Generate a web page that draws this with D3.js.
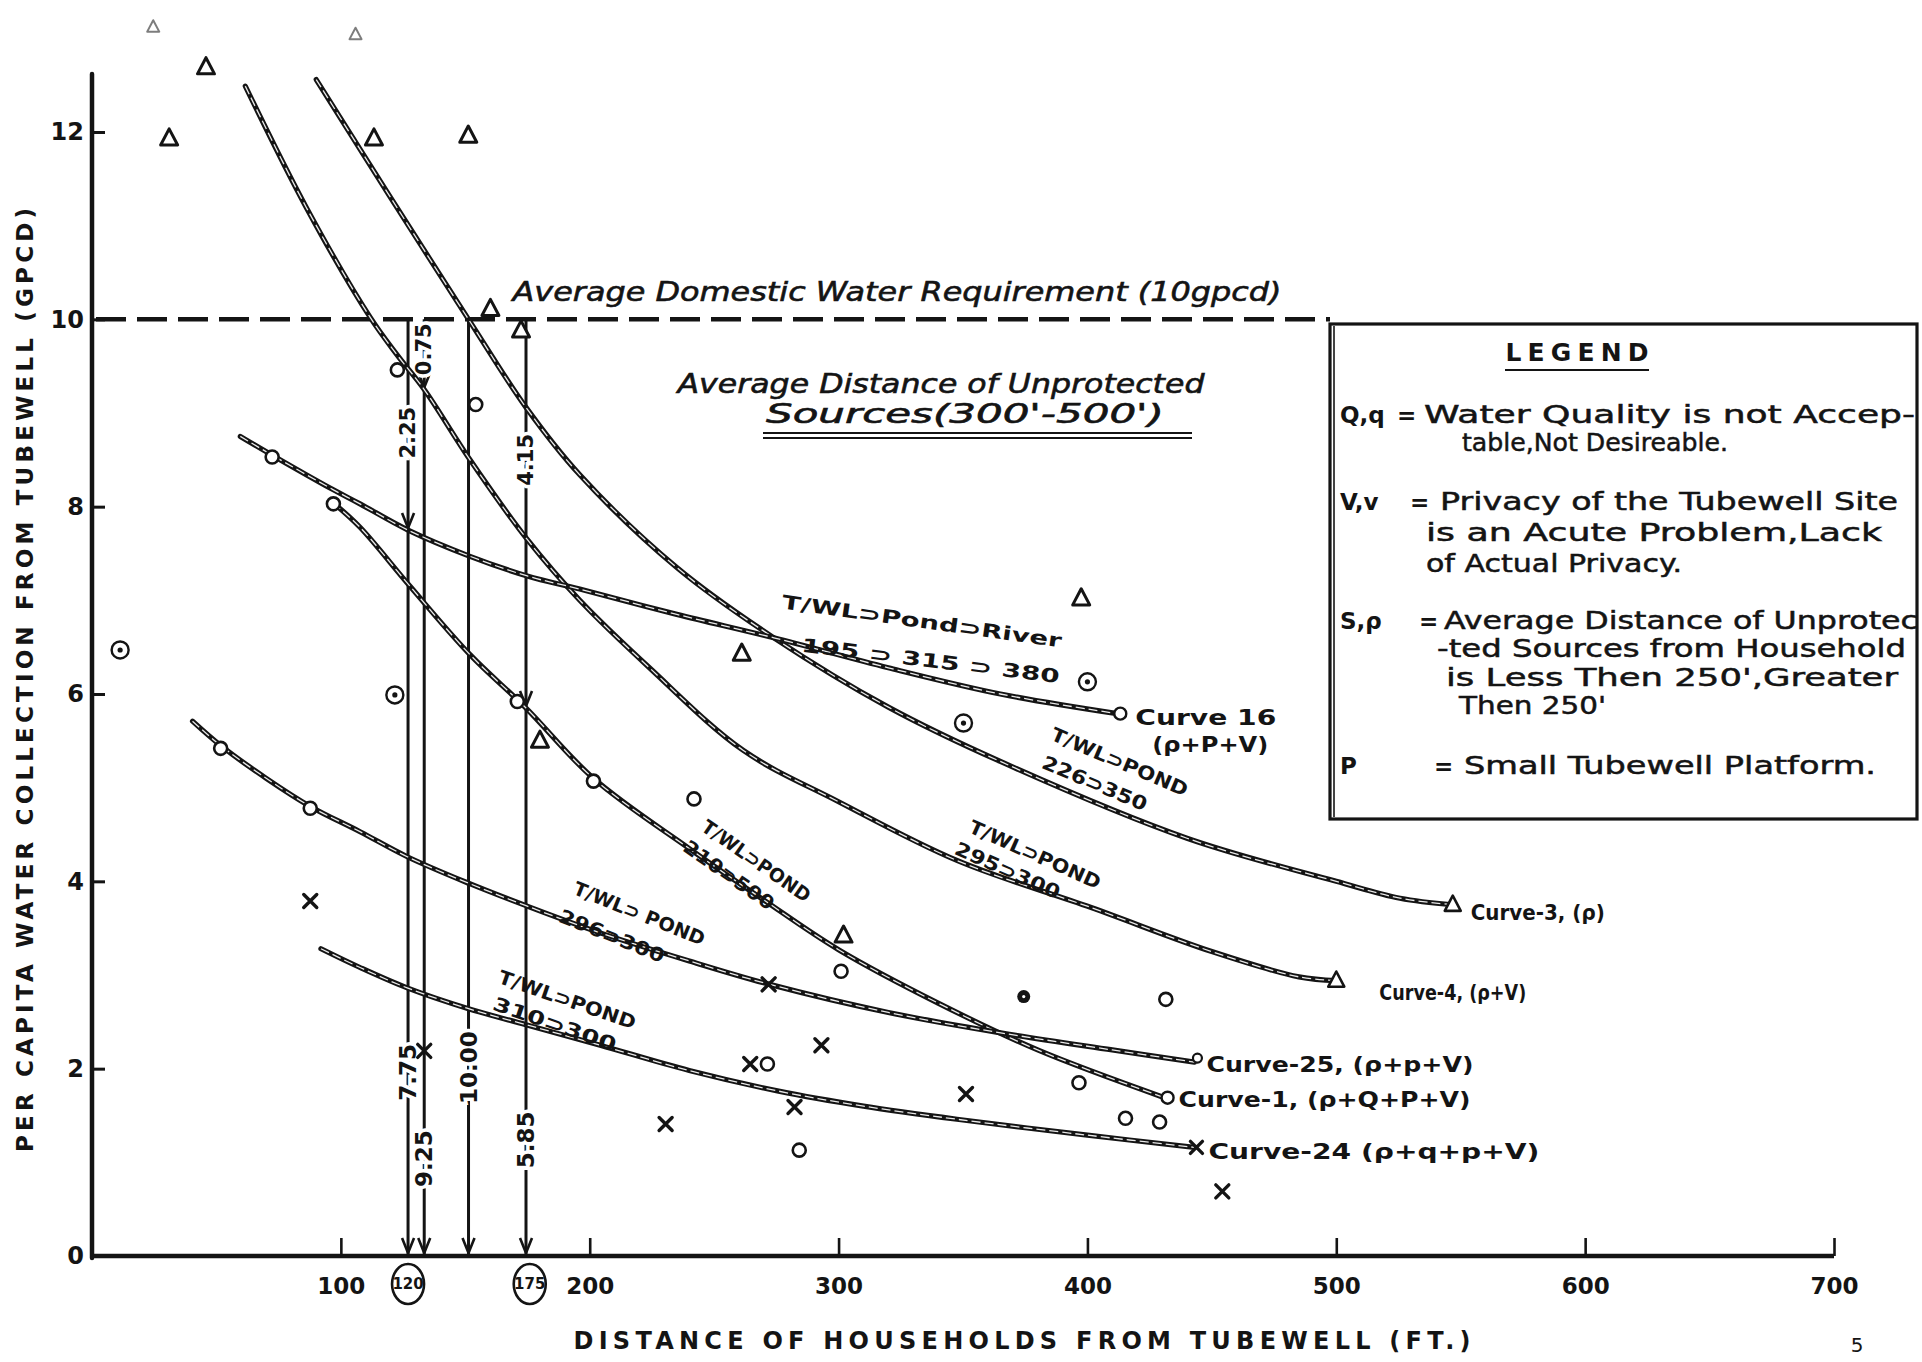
<!DOCTYPE html>
<html>
<head>
<meta charset="utf-8">
<title>Per capita water collection vs distance from tubewell</title>
<script src="https://cdn.jsdelivr.net/npm/d3@7"></script>
<style>
  html, body { margin: 0; padding: 0; background: #ffffff; }
  svg { display: block; }
  text { font-family: "DejaVu Sans", "Liberation Sans", sans-serif; fill: #141414; }
</style>
</head>
<body>
<svg id="chart" width="1922" height="1362"></svg>
<script>
// ---------- axis ticks ----------
const xTickValues = [100, 200, 300, 400, 500, 600, 700];
const yTickValues = [0, 2, 4, 6, 8, 10, 12];

// ---------- fitted curves: [distance (ft), collection (gpcd)] ----------
const curve3 = [[90.1,12.56],[120,11.3],[151.3,10.0],[174.4,9.06],[196,8.34],[235,7.35],[274,6.6],[320,5.86],[365,5.28],[440,4.46],[500,4.0],[525.6,3.82],[546.8,3.75]];
const curve4 = [[61.6,12.49],[86,11.2],[111.8,10.02],[122.6,9.62],[133.5,9.25],[151.9,8.5],[174.9,7.65],[196,7.0],[224,6.28],[261.6,5.4],[300,4.85],[347.8,4.22],[401.5,3.72],[450,3.25],[485,2.98],[500,2.94]];
const curve16 = [[59.6,8.75],[72.4,8.55],[97,8.18],[107.7,8.03],[127,7.75],[151.9,7.47],[174.9,7.26],[196,7.12],[235,6.85],[274,6.6],[320,6.28],[365,6.0],[412,5.79]];
const curve1 = [[97,8.04],[107.7,7.78],[127.8,7.15],[151.9,6.42],[174.4,5.85],[201.5,5.1],[240,4.35],[270,3.8],[300,3.27],[340,2.7],[380,2.2],[431,1.69]];
const curve25 = [[40.4,5.71],[51.7,5.45],[70,5.1],[87.7,4.8],[107.7,4.53],[126.9,4.26],[151.3,3.98],[174.4,3.74],[204.2,3.45],[240,3.15],[272.3,2.9],[320,2.6],[365.7,2.38],[410,2.2],[443,2.07]];
const curve24 = [[92,3.28],[107.7,3.08],[126.9,2.86],[151.3,2.64],[174.4,2.47],[204.2,2.25],[240,1.98],[275.9,1.76],[310,1.6],[347.6,1.46],[400,1.29],[443,1.16]];

const curveNames = ["Curve-3, (ρ)", "Curve-4, (ρ+V)", "Curve 16", "Curve-1, (ρ+Q+P+V)", "Curve-25, (ρ+p+V)", "Curve-24 (ρ+q+p+V)"];
const curveEndShapes = ["tri", "tri", "circle", "circle", "smallcircle", "cross"];

// route distances written along each curve (tubewell ⊃ pond ⊃ river)
const routeHeads = ["T/WL⊃Pond⊃River", "T/WL⊃POND", "T/WL⊃POND", "T/WL⊃POND", "T/WL⊃ POND", "T/WL⊃POND"];
const routeDists = ["195 ⊃ 315 ⊃ 380", "226⊃350", "295⊃300", "210⊃500", "296⊃300", "310⊃300"];

// ---------- household observations ----------
const obsTriangles = [[45.8,12.69],[31,11.93],[113.3,11.93],[151.2,11.96],[160.1,10.11],[172.4,9.88],[261.1,6.43],[397.5,7.02],[302,3.42],[180,5.5]];
const obsFaintTriangles = [[24.6,13.12],[105.9,13.04]];
const obsCircles = [[72.4,8.53],[97,8.03],[51.7,5.42],[87.7,4.78],[122.7,9.46],[154.2,9.09],[170.9,5.92],[201.5,5.07],[241.9,4.88],[301,3.04],[431.5,2.74],[396.6,1.85],[415.3,1.47],[429,1.43],[284.2,1.13],[271.4,2.05]];
const obsDotCircles = [[11.3,6.47],[121.7,5.99],[350.2,5.69],[400,6.13]];
const obsFilled = [[374.4,2.77]];
const obsCrosses = [[87.7,3.79],[293.1,2.25],[230.5,1.41],[282.3,1.59],[351.2,1.73],[454.2,0.69],[264.5,2.05],[271.9,2.9],[133.5,2.19]];

// ---------- requirement level and read-off lines ----------
const requirement = 10;
const dropX = [127, 133.5, 151.3, 174.4];
const dropY = [7.75, 9.25, 10.0, 5.85];
const circledDistances = ["120", "175"];

// ---------- legend ----------
const legendKeys = ["Q,q", "V,v", "S,ρ", "P"];
const legendLines = [
  ["Water Quality is not Accep-", "table,Not Desireable."],
  ["Privacy of the Tubewell Site", "is an Acute Problem,Lack", "of Actual Privacy."],
  ["Average Distance of Unprotec", "-ted Sources from Household", "is Less Then 250',Greater", "Then 250'"],
  ["Small Tubewell Platform."]
];

// ================= drawing =================
const svg = d3.select("#chart");
const INK = "#141414";

const x = d3.scaleLinear().domain([0, 700]).range([92, 1834]);
const y = d3.scaleLinear().domain([0, 12]).range([1256, 132]);

// ---- axes ----
const xAxis = d3.axisBottom(x).tickValues(xTickValues).tickSize(-18).tickSizeOuter(0).tickPadding(22);
const gx = svg.append("g").attr("transform", `translate(0,${y(0)})`).call(xAxis);
gx.select(".domain").remove();
gx.selectAll(".tick line").attr("stroke", INK).attr("stroke-width", 2.6);
gx.selectAll(".tick text").attr("font-size", 23).attr("font-weight", "bold").attr("fill", INK);

const yAxis = d3.axisLeft(y).tickValues(yTickValues).tickSize(-13).tickSizeOuter(0).tickPadding(8);
const gy = svg.append("g").attr("transform", `translate(${x(0)},0)`).call(yAxis);
gy.select(".domain").remove();
gy.selectAll(".tick line").attr("stroke", INK).attr("stroke-width", 3).filter(d => d === 0).remove();
gy.selectAll(".tick text").attr("font-size", 24).attr("font-weight", "bold").attr("fill", INK);

svg.append("line").attr("x1", x(0)).attr("x2", x(0)).attr("y1", y(0) + 2).attr("y2", y(12.62))
  .attr("stroke", INK).attr("stroke-width", 4.5).attr("stroke-linecap", "round");
svg.append("line").attr("x1", x(0) - 2).attr("x2", x(700)).attr("y1", y(0)).attr("y2", y(0))
  .attr("stroke", INK).attr("stroke-width", 4.5);

// axis titles
svg.append("text").attr("x", 1022).attr("y", 1349).attr("text-anchor", "middle")
  .attr("font-size", 24).attr("font-weight", "bold")
  .attr("textLength", 897).attr("lengthAdjust", "spacing")
  .text("DISTANCE OF HOUSEHOLDS FROM TUBEWELL (FT.)");
svg.append("text").attr("transform", "translate(33,680) rotate(-90)").attr("text-anchor", "middle")
  .attr("font-size", 23).attr("font-weight", "bold")
  .attr("textLength", 944).attr("lengthAdjust", "spacing")
  .text("PER CAPITA WATER COLLECTION FROM TUBEWELL (GPCD)");

// ---- legend box ----
const lg = svg.append("g");
lg.append("rect").attr("x", 1330).attr("y", 324).attr("width", 587).attr("height", 495)
  .attr("fill", "#fff").attr("stroke", INK).attr("stroke-width", 3.2);
lg.append("line").attr("x1", 1334).attr("x2", 1334).attr("y1", 326).attr("y2", 817)
  .attr("stroke", INK).attr("stroke-width", 1.6);

// ---- requirement line ----
svg.append("line").attr("x1", x(0) + 4).attr("x2", 1330).attr("y1", y(requirement)).attr("y2", y(requirement))
  .attr("stroke", INK).attr("stroke-width", 4.5).attr("stroke-dasharray", "30 11");

function noteText(px, py, w, str, fs) {
  svg.append("text").attr("x", px).attr("y", py).attr("text-anchor", "middle")
    .attr("font-size", fs).attr("font-style", "oblique")
    .attr("stroke", INK).attr("stroke-width", 0.6)
    .attr("textLength", w).attr("lengthAdjust", "spacingAndGlyphs")
    .text(str);
}
noteText(897, 301, 769, "Average Domestic Water Requirement   (10gpcd)", 27);
noteText(941, 393, 527, "Average Distance of Unprotected", 27);
noteText(965, 423, 398, "Sources(300'-500')", 26);
[431, 436].forEach(yy => svg.append("line").attr("x1", 763).attr("x2", 1192).attr("y1", yy + 2).attr("y2", yy + 2)
  .attr("stroke", INK).attr("stroke-width", 2));

// ---- read-off lines ----
const dl = svg.append("g");
const fmt = d3.format(".2f");
function arrowDown(px, py) {
  dl.append("path").attr("d", `M${px - 6},${py - 15}L${px},${py}L${px + 6},${py - 15}`)
    .attr("fill", "none").attr("stroke", INK).attr("stroke-width", 2.6).attr("stroke-linejoin", "miter");
}
dropX.forEach((dx, i) => {
  const px = x(dx);
  dl.append("line").attr("x1", px).attr("x2", px).attr("y1", y(requirement)).attr("y2", y(0) - 2)
    .attr("stroke", INK).attr("stroke-width", 3);
  if (dropY[i] < requirement) arrowDown(px, y(dropY[i]) - 2);
  arrowDown(px, y(0) - 3);
});
// value read at each curve, and the shortfall from the requirement
const lowerLabelAt = [1.96, 1.04, 2.01, 1.24];
const upperLabelAt = [8.79, 9.68, null, 8.5];
dropX.forEach((dx, i) => {
  dl.append("text").attr("transform", `translate(${x(dx)},${y(lowerLabelAt[i])}) rotate(-90)`)
    .attr("text-anchor", "middle").attr("dominant-baseline", "central")
    .attr("font-size", 23).attr("font-weight", "bold")
    .attr("stroke", "#fff").attr("stroke-width", 7).attr("paint-order", "stroke")
    .text(fmt(dropY[i]));
  if (upperLabelAt[i] !== null) {
    dl.append("text").attr("transform", `translate(${x(dx)},${y(upperLabelAt[i])}) rotate(-90)`)
      .attr("text-anchor", "middle").attr("dominant-baseline", "central")
      .attr("font-size", 21).attr("font-weight", "bold")
      .attr("stroke", "#fff").attr("stroke-width", 7).attr("paint-order", "stroke")
      .text(fmt(requirement - dropY[i]));
  }
});
// circled distances on the axis
[dropX[0], dropX[3] + 1.5].forEach((dx, i) => {
  const g = svg.append("g").attr("transform", `translate(${x(dx)},${y(0) + 28})`);
  g.append("ellipse").attr("rx", 16).attr("ry", 20).attr("fill", "#fff").attr("stroke", INK).attr("stroke-width", 2.6);
  g.append("text").attr("text-anchor", "middle").attr("dominant-baseline", "central")
    .attr("font-size", 15).attr("font-weight", "bold").text(circledDistances[i]);
});

// ---- curves ----
const allCurves = [curve3, curve4, curve16, curve1, curve25, curve24];
const line = d3.line().x(d => x(d[0])).y(d => y(d[1])).curve(d3.curveCatmullRom.alpha(0.5));
const cg = svg.append("g");
allCurves.forEach(pts => {
  cg.append("path").attr("d", line(pts)).attr("fill", "none").attr("stroke", INK)
    .attr("stroke-width", 5.2).attr("stroke-linecap", "round");
  cg.append("path").attr("d", line(pts)).attr("fill", "none").attr("stroke", "#fff")
    .attr("stroke-width", 1.3).attr("stroke-dasharray", "9 4").attr("opacity", 0.9);
});

// ---- markers ----
const mg = svg.append("g");
function tri(px, py, s, sw, op) {
  const h = s * 0.95;
  mg.append("path").attr("d", `M${px},${py - h * 0.6}L${px + s / 2},${py + h * 0.4}L${px - s / 2},${py + h * 0.4}Z`)
    .attr("fill", "#fff").attr("stroke", INK).attr("stroke-width", sw).attr("stroke-linejoin", "round")
    .attr("opacity", op);
}
function circ(px, py, r, sw) {
  mg.append("circle").attr("cx", px).attr("cy", py).attr("r", r).attr("fill", "#fff").attr("stroke", INK).attr("stroke-width", sw);
}
function cross(px, py, s) {
  mg.append("path").attr("d", `M${px - s},${py - s}L${px + s},${py + s}M${px + s},${py - s}L${px - s},${py + s}`)
    .attr("stroke", INK).attr("stroke-width", 3.4).attr("stroke-linecap", "round");
}
obsTriangles.forEach(d => tri(x(d[0]), y(d[1]), 17, 3, 1));
obsFaintTriangles.forEach(d => tri(x(d[0]), y(d[1]), 12, 2, 0.55));
obsCircles.forEach(d => circ(x(d[0]), y(d[1]), 6.5, 2.6));
obsDotCircles.forEach(d => {
  circ(x(d[0]), y(d[1]), 8.5, 2.4);
  mg.append("circle").attr("cx", x(d[0])).attr("cy", y(d[1])).attr("r", 2.6).attr("fill", INK);
});
obsFilled.forEach(d => {
  mg.append("circle").attr("cx", x(d[0])).attr("cy", y(d[1])).attr("r", 6.5).attr("fill", INK);
  mg.append("circle").attr("cx", x(d[0])).attr("cy", y(d[1])).attr("r", 1.6).attr("fill", "#fff");
});
obsCrosses.forEach(d => cross(x(d[0]), y(d[1]), 6.5));

// curve end markers and names
const endLabelOffset = [[18, 8], [43, 12], [18, 4], [14, 2], [12, 3], [14, 5]];
const endLabelWidth = [134, 147, 141, 292, 267, 331];
allCurves.forEach((pts, i) => {
  const last = pts[pts.length - 1];
  const px = x(last[0]), py = y(last[1]);
  const shape = curveEndShapes[i];
  if (shape === "tri") tri(px, py, 16, 2.6, 1);
  else if (shape === "circle") circ(px + 3, py, 6, 2.4);
  else if (shape === "smallcircle") circ(px + 3, py - 4, 4.5, 2.2);
  else cross(px + 2, py, 6);
  svg.append("text").attr("x", px + endLabelOffset[i][0]).attr("y", py + endLabelOffset[i][1])
    .attr("dominant-baseline", "central").attr("font-size", 21).attr("font-weight", "bold")
    .attr("textLength", endLabelWidth[i]).attr("lengthAdjust", "spacingAndGlyphs")
    .text(curveNames[i]);
  if (i === 2) {
    svg.append("text").attr("x", px + 35).attr("y", py + 31)
      .attr("dominant-baseline", "central").attr("font-size", 21).attr("font-weight", "bold")
      .attr("textLength", 116).attr("lengthAdjust", "spacingAndGlyphs")
      .text("(ρ+P+V)");
  }
});

// route labels laid along the curves
const routeHeadAt = [[333.5, 6.78, 8, 282], [413, 5.28, 23, 147], [379, 4.29, 24, 142], [267, 4.22, 35, 128], [220, 3.66, 22, 140], [191, 2.74, 19, 144]];
const routeDistAt = [[337, 6.36, 7, 260], [403, 5.05, 23, 112], [368, 4.12, 24, 113], [256, 4.07, 35, 106], [209, 3.42, 22, 112], [186, 2.48, 19, 129]];
function routeText(pos, str, fs) {
  svg.append("text").attr("transform", `translate(${x(pos[0])},${y(pos[1])}) rotate(${pos[2]})`)
    .attr("text-anchor", "middle").attr("dominant-baseline", "central")
    .attr("font-size", fs).attr("font-weight", "bold")
    .attr("textLength", pos[3]).attr("lengthAdjust", "spacingAndGlyphs")
    .text(str);
}
routeHeads.forEach((s, i) => routeText(routeHeadAt[i], s, 19));
routeDists.forEach((s, i) => routeText(routeDistAt[i], s, 19));

// ---- legend text ----
lg.append("text").attr("x", 1577).attr("y", 361).attr("text-anchor", "middle")
  .attr("font-size", 25).attr("font-weight", "bold").attr("textLength", 143).attr("lengthAdjust", "spacing")
  .text("LEGEND");
lg.append("line").attr("x1", 1505).attr("x2", 1649).attr("y1", 370).attr("y2", 370).attr("stroke", INK).attr("stroke-width", 2.2);

const legendRowY = [[423, 451], [510, 541, 572], [629, 657, 686, 714], [774]];
const legendRowX = [[1410, 1462], [1426, 1426, 1426], [1430, 1437, 1446, 1459], [1450]];
const legendRowW = [[505, 266], [472, 456, 256], [488, 469, 452, 147], [426]];
const legendEqX = [1397, 1410, 1419, 1434];
legendKeys.forEach((k, i) => {
  lg.append("text").attr("x", 1340).attr("y", legendRowY[i][0]).attr("font-size", 23).attr("font-weight", "bold").text(k);
  lg.append("text").attr("x", legendEqX[i]).attr("y", legendRowY[i][0]).attr("font-size", 23).attr("font-weight", "bold").text("=");
  legendLines[i].forEach((s, j) => {
    lg.append("text").attr("x", legendRowX[i][j] + (j === 0 ? 14 : 0)).attr("y", legendRowY[i][j])
      .attr("font-size", 24).attr("stroke", INK).attr("stroke-width", 0.5)
      .attr("textLength", legendRowW[i][j] - (j === 0 ? 14 : 0)).attr("lengthAdjust", "spacingAndGlyphs")
      .text(s);
  });
});

// page number
svg.append("text").attr("x", 1857).attr("y", 1352).attr("text-anchor", "middle")
  .attr("font-size", 20).attr("fill", "#666").text("5");
</script>
</body>
</html>
